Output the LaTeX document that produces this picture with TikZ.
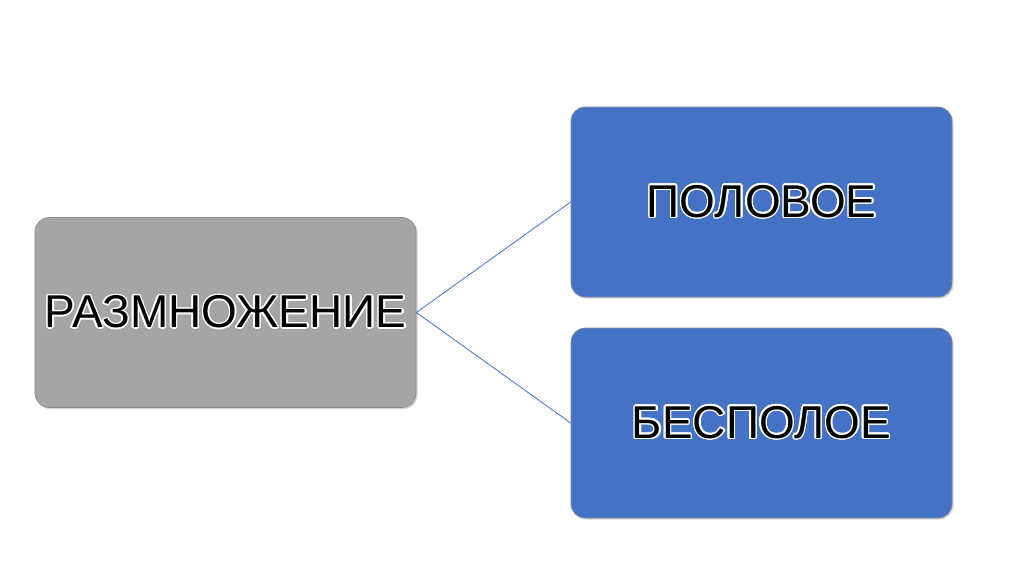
\documentclass[tikz,border=0pt]{standalone}
\usepackage{fontspec}
\setmainfont{Liberation Sans}
\usepackage{contour}
\contourlength{1.5pt}
\usetikzlibrary{shadows}
\definecolor{boxgray}{HTML}{A5A5A5}
\definecolor{boxblue}{HTML}{4472C4}
\begin{document}
\begin{tikzpicture}[x=1pt,y=-1pt,
    box/.style={rectangle,rounded corners=14pt,minimum width=381pt,minimum height=190pt,
      draw=black!45,line width=0.6pt,drop shadow={shadow xshift=1.5pt,shadow yshift=-1.5pt,opacity=0.35},
      font=\fontsize{46}{50}\selectfont},
    link/.style={draw=boxblue,line width=0.8pt}]
      \useasboundingbox (0,0) rectangle (1024,574);
      \node[box,fill=boxgray] (razm) at (225.5,312.5) {\contour{white}{РАЗМНОЖЕНИЕ}};
      \node[box,fill=boxblue] (polov) at (761.5,202) {\contour{white}{ПОЛОВОЕ}};
      \node[box,fill=boxblue] (bespol) at (761.5,423) {\contour{white}{БЕСПОЛОЕ}};
      \draw[link] (razm.east) -- (polov.west);
      \draw[link] (razm.east) -- (bespol.west);
\end{tikzpicture}
\end{document}
